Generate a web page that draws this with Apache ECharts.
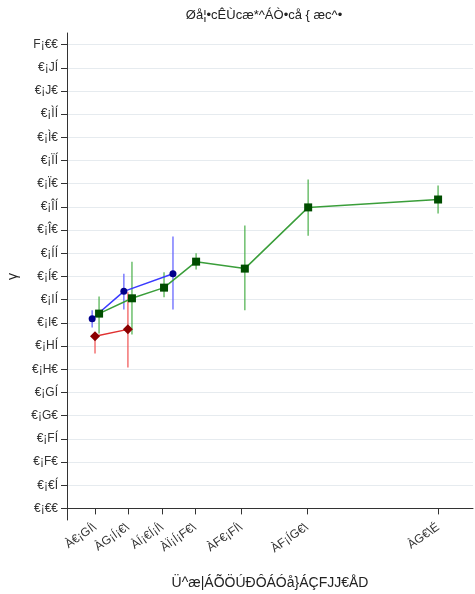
<!DOCTYPE html>
<html><head><meta charset="utf-8">
<script src="https://cdn.jsdelivr.net/npm/echarts@6/dist/echarts.min.js"></script>
<style>html,body{margin:0;padding:0;background:#fff}#c{width:475px;height:594px}</style>
</head><body><div id="c"></div>
<script>
const titleText = "Øå¦•cÊÙcæ*^ÁÒ•cå { æc^•";
const xAxisName = "Ü^æ|ÁÕÖÚÐÔÁÓå}ÁÇFJJ€ÅD";
const yAxisName = "γ";
const xTickValues = [6.9, 15.0, 23.4, 31.5, 42.9, 59.1, 91.4];
const xTickLabels = ["À€¡GÍ\\", "ÀG¡Í¡€\\", "ÀÍ¡€Í¡Í\\", "ÀÏ¡Í¡F€\\", "ÀF€¡FÍ\\", "ÀF¡ÍG€\\", "ÀG€\\É"];
const yTickValues = [0,0.05,0.1,0.15,0.2,0.25,0.3,0.35,0.4,0.45,0.5,0.55,0.6,0.65,0.7,0.75,0.8,0.85,0.9,0.95,1.0];
const yTickLabels = ["€¡€€","€¡€Í","€¡F€","€¡FÍ","€¡G€","€¡GÍ","€¡H€","€¡HÍ","€¡I€","€¡IÍ","€¡Í€","€¡ÍÍ","€¡Î€","€¡ÎÍ","€¡Ï€","€¡ÏÍ","€¡Ì€","€¡ÌÍ","€¡J€","€¡JÍ","F¡€€"];

const greenX = [7.9, 16.0, 23.9, 31.8, 43.8, 59.4, 91.4];
const greenY = [0.420, 0.453, 0.476, 0.532, 0.517, 0.649, 0.666];
const greenLo = [0.377, 0.375, 0.455, 0.515, 0.427, 0.588, 0.636];
const greenHi = [0.457, 0.532, 0.509, 0.550, 0.610, 0.709, 0.696];

const blueX = [6.2, 14.0, 26.1];
const blueY = [0.409, 0.468, 0.506];
const blueLo = [0.390, 0.429, 0.429];
const blueHi = [0.427, 0.506, 0.586];

const redX = [6.9, 15.0];
const redY = [0.371, 0.386];
const redLo = [0.334, 0.304];
const redHi = [0.379, 0.466];

function pts(xs, ys){ return xs.map((x,i)=>[x, ys[i]]); }
function errData(xs, lo, hi){ return xs.map((x,i)=>[x, lo[i], hi[i]]); }
function errSeries(data, color){
  return {
    type: 'custom', data: data, z: 1, silent: true,
    encode: {x: 0, y: [1,2]},
    renderItem: function(params, api){
      const a = api.coord([api.value(0), api.value(1)]);
      const b = api.coord([api.value(0), api.value(2)]);
      return {type: 'line', shape: {x1: a[0], y1: a[1], x2: b[0], y2: b[1]},
        style: {stroke: color, lineWidth: 1.6}};
    }
  };
}
function lineSeries(data, lineColor, markColor, symbol, size){
  return {type: 'line', data: data, z: 3, symbol: symbol, symbolSize: size, showSymbol: true,
    lineStyle: {color: lineColor, width: 1.5}, itemStyle: {color: markColor, borderWidth: 0},
    animation: false};
}

const chart = echarts.init(document.getElementById('c'), null, {renderer: 'canvas'});
const font = 'Liberation Sans';
chart.setOption({
  animation: false,
  backgroundColor: '#fff',
  title: {text: titleText, left: 259, textAlign: 'center', top: 4,
    textStyle: {fontFamily: font, fontSize: 13, fontWeight: 'normal', color: '#222'}},
  grid: {left: 67, right: 2, top: 33, bottom: 74, containLabel: false, outerBoundsMode: 'none'},
  xAxis: {
    type: 'value', min: 0, max: 100,
    name: xAxisName, nameLocation: 'middle', nameGap: 56,
    nameTextStyle: {fontFamily: font, fontSize: 14, color: '#222'},
    axisLine: {lineStyle: {color: '#333', width: 1}},
    axisTick: {show: true, length: 6, lineStyle: {color: '#333'}, customValues: xTickValues},
    axisLabel: {customValues: xTickValues, rotate: 35, fontFamily: font, fontSize: 12, color: '#333', margin: 6,
      formatter: function(v){ const i = xTickValues.findIndex(t=>Math.abs(t-v)<1e-6); return i>=0 ? xTickLabels[i] : ''; }},
    splitLine: {show: false}
  },
  yAxis: {
    type: 'value', min: -0.025, max: 1.025,
    name: yAxisName, nameLocation: 'middle', nameGap: 47, nameRotate: 90,
    nameTextStyle: {fontFamily: font, fontSize: 14, color: '#222'},
    axisLine: {show: true, lineStyle: {color: '#333', width: 1}},
    axisTick: {show: true, length: 6, lineStyle: {color: '#333'}, customValues: yTickValues},
    axisLabel: {customValues: yTickValues, fontFamily: font, fontSize: 12, color: '#333', margin: 9,
      formatter: function(v){ const i = yTickValues.findIndex(t=>Math.abs(t-v)<1e-6); return i>=0 ? yTickLabels[i] : ''; }},
    splitLine: {show: true, lineStyle: {color: '#e6ebef', width: 1}}
  },
  series: [
    errSeries(errData(greenX, greenLo, greenHi), 'rgba(60,170,60,0.7)'),
    errSeries(errData(blueX, blueLo, blueHi), 'rgba(90,90,255,0.75)'),
    errSeries(errData(redX, redLo, redHi), 'rgba(240,80,80,0.75)'),
    lineSeries(pts(redX, redY), '#e03030', '#8b0000', 'diamond', 10),
    lineSeries(pts(greenX, greenY), '#3a9e3a', '#004d00', 'rect', 8),
    lineSeries(pts(blueX, blueY), '#3a3aff', '#00008b', 'circle', 7)
  ]
});
</script></body></html>
